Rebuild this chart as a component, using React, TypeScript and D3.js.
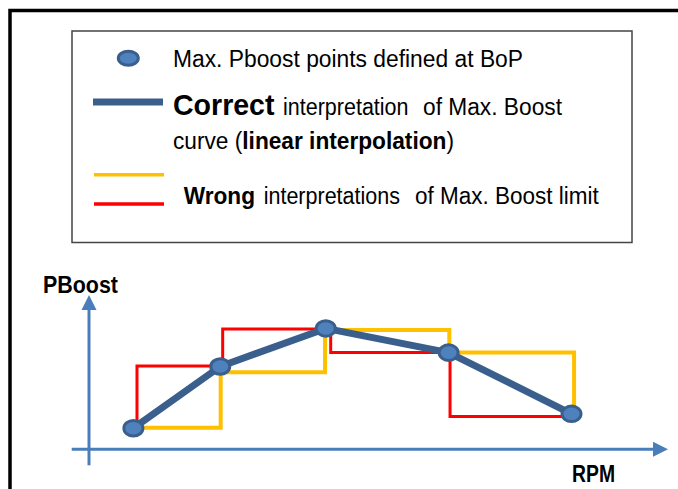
import React from "react";
import * as d3 from "d3";

// ---- data (RPM, PBoost in bar) ----
const pointRpm = [690, 2040, 3680, 5590, 7500];
const pointBoost = [0.41, 1.61, 2.35, 1.88, 0.69];

// wrong interpretation #1 (yellow): value held from left point (step after)
const yellowRpm = [690, 2047, 3669, 5601, 7540];
const yellowBoost = [0.42, 1.5, 2.32, 1.88, 0.69];

// wrong interpretation #2 (red): value of right point (step before)
const redRpm = [746, 2078, 3757, 5612, 7500];
const redBoost = [0.41, 1.62, 2.34, 1.88, 0.64];

const xLabel = "RPM";
const yLabel = "PBoost";

const W = 678;
const H = 489;
const FONT = "'Liberation Sans Narrow', 'Arial Narrow', 'Liberation Sans', Arial, sans-serif";

const BLUE = "#3b5f8d";
const MARK_FILL = "#4f81bd";
const AXIS = "#4a7ebb";
const YELLOW = "#ffc000";
const RED = "#ff0000";

const FS = 23;

export default function App() {
  const x = d3.scaleLinear().domain([0, 9000]).range([89, 668]);
  const y = d3.scaleLinear().domain([0, 3]).range([449.3, 295]);

  const blueLine = d3
    .line<number>()
    .x((_, i) => x(pointRpm[i]))
    .y((d) => y(d))(pointBoost) as string;

  const yellowLine = d3
    .line<number>()
    .curve(d3.curveStepAfter)
    .x((_, i) => x(yellowRpm[i]))
    .y((d) => y(d))(yellowBoost) as string;

  const redLine = d3
    .line<number>()
    .curve(d3.curveStepBefore)
    .x((_, i) => x(redRpm[i]))
    .y((d) => y(d))(redBoost) as string;

  const x0 = x(0);
  const y0 = y(0);
  const xTip = x(9000);
  const yTip = y(3);
  const ah = 15; // arrow length
  const aw = 7.5; // arrow half width

  const T = (props: any) => (
    <text lengthAdjust="spacingAndGlyphs" fontSize={FS} {...props} />
  );

  return (
    <svg
      width={W}
      height={H}
      style={{ position: "absolute", left: 0, top: 0, background: "#fff" }}
      fontFamily={FONT}
    >
      <rect x={0} y={0} width={W} height={H} fill="#fff" />
      {/* outer frame */}
      <rect x={10} y={10.5} width={W + 20} height={H + 20} fill="none" stroke="#000" strokeWidth={3.5} />

      {/* legend box */}
      <rect x={72} y={31} width={560} height={211.5} fill="#fff" stroke="#444" strokeWidth={1.5} />
      <ellipse cx={128.3} cy={58.3} rx={10} ry={7} fill={MARK_FILL} stroke={BLUE} strokeWidth={3} />
      <line x1={93} x2={163} y1={102} y2={102} stroke={BLUE} strokeWidth={7} />
      <line x1={94} x2={164} y1={174.7} y2={174.7} stroke={YELLOW} strokeWidth={3.5} />
      <line x1={94} x2={164} y1={204} y2={204} stroke={RED} strokeWidth={3.5} />

      <g fill="#000">
        <T x={173} y={66.5} textLength={350}>Max. Pboost points defined at BoP</T>
        <T x={173} y={115} fontSize={30} fontWeight="bold" textLength={101.5}>Correct</T>
        <T x={283} y={115} textLength={125.5}>interpretation</T>
        <T x={423} y={115} textLength={139}>of Max. Boost</T>
        <T x={173} y={149} textLength={281}>
          curve (<tspan fontWeight="bold">linear interpolation</tspan>)
        </T>
        <T x={183.7} y={204} fontWeight="bold" textLength={71.3}>Wrong</T>
        <T x={263.7} y={204} textLength={136.3}>interpretations</T>
        <T x={415} y={204} textLength={183.8}>of Max. Boost limit</T>
      </g>

      {/* axes */}
      <line x1={x0} x2={x0} y1={y0 + 16} y2={yTip + ah} stroke={AXIS} strokeWidth={3} />
      <path d={`M${x0},${yTip} L${x0 - aw},${yTip + ah} L${x0 + aw},${yTip + ah} Z`} fill={AXIS} />
      <line x1={x0 - 17.3} x2={xTip - ah} y1={y0} y2={y0} stroke={AXIS} strokeWidth={3} />
      <path d={`M${xTip},${y0} L${xTip - ah},${y0 - aw} L${xTip - ah},${y0 + aw} Z`} fill={AXIS} />
      <T x={43} y={292.7} fontSize={24} fontWeight="bold" textLength={75}>{yLabel}</T>
      <T x={572} y={481.7} fontSize={24} fontWeight="bold" textLength={43}>{xLabel}</T>

      {/* wrong interpretations */}
      <path d={redLine} fill="none" stroke={RED} strokeWidth={3} />
      <path d={yellowLine} fill="none" stroke={YELLOW} strokeWidth={4} />

      {/* correct interpretation */}
      <path d={blueLine} fill="none" stroke={BLUE} strokeWidth={7} strokeLinejoin="round" />
      {pointRpm.map((r, i) => (
        <ellipse
          key={i}
          cx={x(r)}
          cy={y(pointBoost[i])}
          rx={9.5}
          ry={7.8}
          fill={MARK_FILL}
          stroke={BLUE}
          strokeWidth={3}
        />
      ))}
    </svg>
  );
}
